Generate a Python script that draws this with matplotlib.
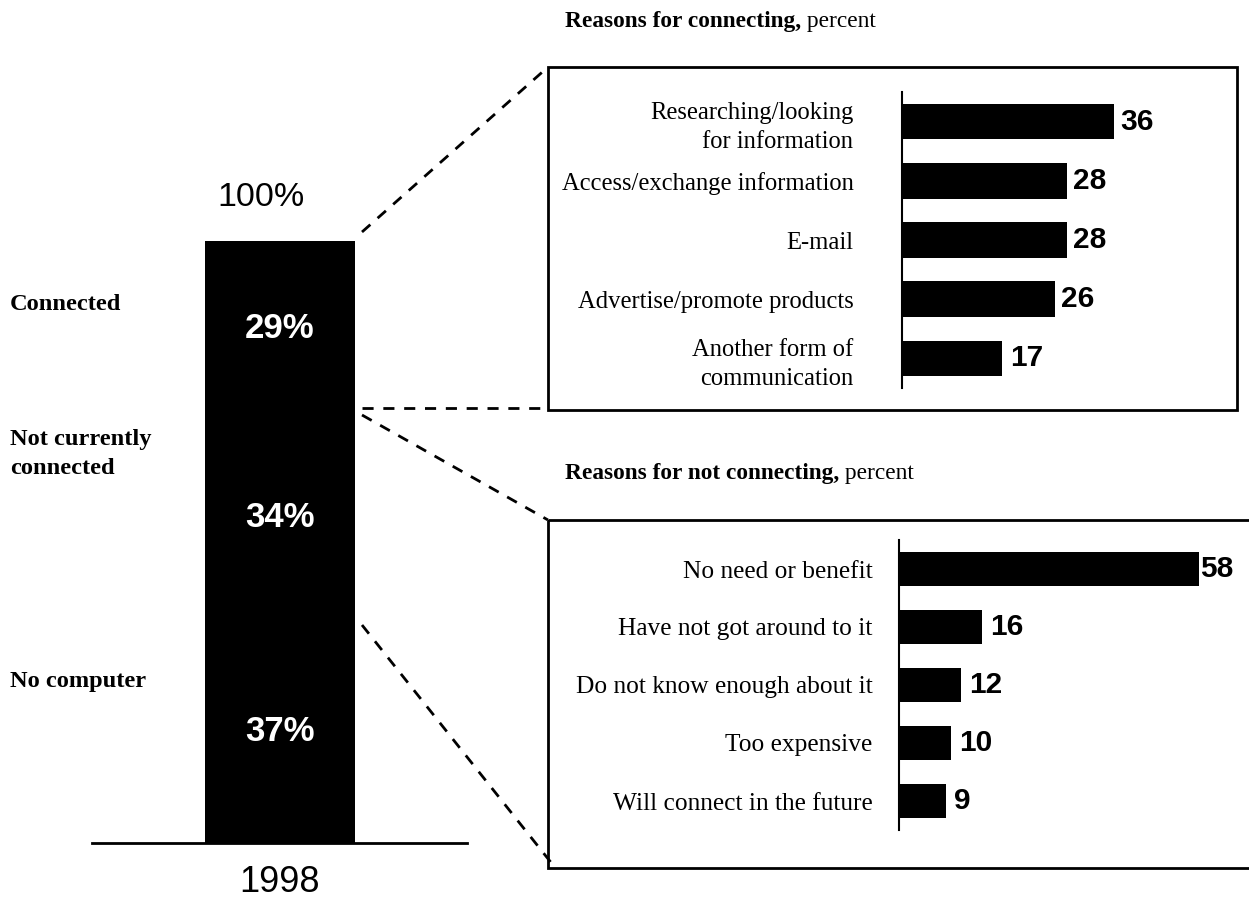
import matplotlib
matplotlib.use("Agg")
import matplotlib.pyplot as plt
from matplotlib.patches import Rectangle

# ---- data -------------------------------------------------------------
year_label = "1998"
status_labels = ["No computer", "Not currently\nconnected", "Connected"]
status_shares = [37, 34, 29]          # stacked bottom -> top, percent

connect_reasons = ["Researching/looking\nfor information",
                   "Access/exchange information",
                   "E-mail",
                   "Advertise/promote products",
                   "Another form of\ncommunication"]
connect_values = [36, 28, 28, 26, 17]

noconnect_reasons = ["No need or benefit",
                     "Have not got around to it",
                     "Do not know enough about it",
                     "Too expensive",
                     "Will connect in the future"]
noconnect_values = [58, 16, 12, 10, 9]

# ---- layout helpers (pixel geometry on a 1249 x 913 canvas) -----------
W, H = 1249, 913
SERIF = "Liberation Serif"
SANS = "Liberation Sans"

fig = plt.figure(figsize=(W / 100, H / 100), dpi=100)


def fbox(x0, y0, x1, y1):
    return [x0 / W, 1 - y1 / H, (x1 - x0) / W, (y1 - y0) / H]


# overlay in pixel coordinates for frames, connectors and free text
ov = fig.add_axes([0, 0, 1, 1], zorder=0)
ov.set_xlim(0, W)
ov.set_ylim(H, 0)
ov.axis("off")

# ---- stacked 100% column ----------------------------------------------
axb = fig.add_axes(fbox(92, 241, 467, 843), zorder=1)
axb.patch.set_alpha(0)
bottom = 0
for share in status_shares:
    axb.bar(0, share, width=0.4, bottom=bottom, color="black", edgecolor="none")
    axb.text(0, bottom + share / 2, f"{share}%", color="white", ha="center",
             va="center", fontsize=25, fontweight="bold", family=SANS)
    bottom += share
axb.annotate(f"{bottom}%", xy=(0, bottom), xytext=(-18, 44),
             textcoords="offset pixels", ha="center", va="center",
             fontsize=24.5, family=SANS)
axb.set_xlim(-0.5, 0.5)
axb.set_ylim(0, 100)
for s in ["top", "right", "left"]:
    axb.spines[s].set_visible(False)
axb.spines["bottom"].set_linewidth(2)
axb.set_yticks([])
axb.set_xticks([0])
axb.set_xticklabels([year_label], fontsize=26, family=SANS)
axb.tick_params(axis="x", length=0, pad=16)

# category names at the left of the column
status_label_y = [682, 454, 305]
for lab, y in zip(status_labels, status_label_y):
    ov.text(10, y, lab, ha="left", va="center", fontsize=17.6,
            fontweight="bold", family=SERIF, linespacing=1.45)

# ---- framed panels ----------------------------------------------------
ov.add_patch(Rectangle((548, 67), 1237 - 548, 410 - 67, fill=False,
                       lw=2, ec="black"))
ov.add_patch(Rectangle((548, 520), 1260 - 548, 868 - 520, fill=False,
                       lw=2, ec="black", clip_on=True))

dash = dict(color="black", lw=2, ls=(0, (4, 3.5)))
ov.plot([362, 548], [232, 67], **dash)
ov.plot([362, 548], [408, 408], **dash)
ov.plot([362, 548], [415, 520], **dash)
ov.plot([362, 553], [625, 865], **dash)


def title(x, y, bold, rest):
    t = ov.text(x, y, bold, ha="left", va="bottom", fontsize=16.8,
                fontweight="bold", family=SERIF)
    ov.annotate(rest, xy=(1, 0), xycoords=t, ha="left", va="bottom",
                fontsize=16.8, family=SERIF)


title(565, 32, "Reasons for connecting,", " percent")
title(565, 484, "Reasons for not connecting,", " percent")


def hbars(box, xmax, cats, vals, pad_pts, label_pads, label_size):
    ax = fig.add_axes(fbox(*box), zorder=1)
    ax.patch.set_alpha(0)
    y = list(range(len(cats)))
    ax.barh(y, vals, height=0.6, color="black", edgecolor="none")
    for yi, v, lp in zip(y, vals, label_pads):
        ax.annotate(str(v), xy=(v, yi), xytext=(lp, 0),
                    textcoords="offset pixels", ha="left", va="center",
                    fontsize=21.5, fontweight="bold", family=SANS)
    ax.set_xlim(0, xmax)
    ax.set_ylim(len(cats) - 0.5, -0.5)
    for s in ["top", "right", "bottom"]:
        ax.spines[s].set_visible(False)
    ax.spines["left"].set_linewidth(1.5)
    ax.set_xticks([])
    ax.set_yticks(y)
    ax.set_yticklabels(cats, fontsize=label_size, family=SERIF,
                       linespacing=1.4)
    ax.tick_params(axis="y", length=0, pad=pad_pts)
    return ax


hbars((902, 92, 1237, 388), (1237 - 902) / 5.89, connect_reasons,
      connect_values, 35, [6, 6, 6, 6, 8], 17.7)
hbars((899, 540, 1249, 830), (1249 - 899) / 5.17, noconnect_reasons,
      noconnect_values, 19, [1, 8, 8, 8, 8], 18.3)

fig.savefig("out.png", dpi=100)
